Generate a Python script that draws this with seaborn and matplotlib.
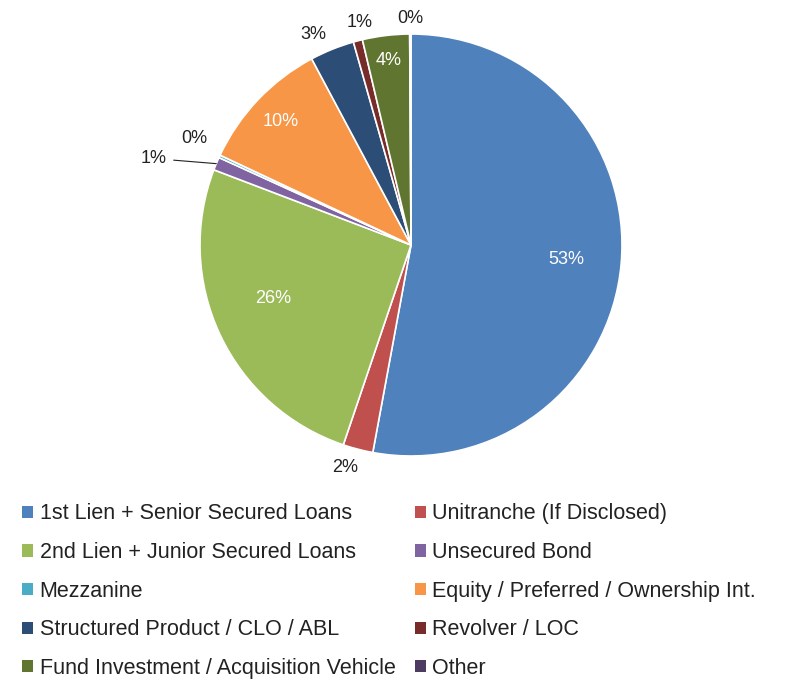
import numpy as np
import matplotlib.pyplot as plt
import seaborn as sns
from matplotlib.patches import Patch

# data (share of portfolio, %)
categories = [
    '1st Lien + Senior Secured Loans',
    'Unitranche (If Disclosed)',
    '2nd Lien + Junior Secured Loans',
    'Unsecured Bond',
    'Mezzanine',
    'Equity / Preferred / Ownership Int.',
    'Structured Product / CLO / ABL',
    'Revolver / LOC',
    'Fund Investment / Acquisition Vehicle',
    'Other',
]
shares = [52.9, 2.3, 25.6, 1.0, 0.2, 10.2, 3.4, 0.7, 3.6, 0.1]
colors = ['#4F81BD', '#C0504D', '#9BBB59', '#8064A2', '#4BACC6',
          '#F79646', '#2C4D75', '#772C2A', '#5F7530', '#4D3B62']

sns.set_theme(style='white')
plt.rcParams['font.family'] = ['Liberation Sans', 'DejaVu Sans']

W, H = 793, 679
fig = plt.figure(figsize=(W / 100, H / 100), dpi=100)
cx, cy, r = 411, 245, 211
ax = fig.add_axes([(cx - r) / W, (H - cy - r) / H, 2 * r / W, 2 * r / H])

wedges, _ = ax.pie(shares, colors=colors, startangle=90, counterclock=False,
                   radius=1.0, wedgeprops=dict(edgecolor='white', linewidth=1.2))
ax.set_xlim(-1, 1)
ax.set_ylim(-1, 1)
ax.set_aspect('equal')
ax.axis('off')

# label placement: (radius, angle nudge in degrees) per slice
inside = {0: (0.74, 0), 2: (0.70, 4), 5: (0.85, 0), 8: (0.88, 0)}
outside = {1: (1.10, 2), 6: (1.10, -3), 7: (1.085, 1.5), 9: (1.075, 0)}
dark = '#222222'
cum = np.cumsum([0] + shares)
for i, s in enumerate(shares):
    txt = f'{round(s):.0f}%'
    mid_deg = (cum[i] + s / 2) / 100 * 360
    if i in inside or i in outside:
        rr, nudge = inside.get(i, outside.get(i))
        a = np.deg2rad(mid_deg + nudge)
        ax.text(rr * np.sin(a), rr * np.cos(a), txt, ha='center', va='center',
                color='white' if i in inside else dark, fontsize=13)
    elif i == 3:
        a = np.deg2rad(mid_deg)
        ax.annotate(txt, xy=(np.sin(a), np.cos(a)), xytext=(-1.16, 0.41),
                    ha='right', va='center', fontsize=13, color=dark,
                    arrowprops=dict(arrowstyle='-', color=dark, lw=0.8,
                                    shrinkA=3, shrinkB=0))
    elif i == 4:
        ax.text(-1.027, 0.505, txt, ha='center', va='center',
                fontsize=13, color=dark)

# legend: two columns, filled row by row
order = [0, 2, 4, 6, 8, 1, 3, 5, 7, 9]
handles = [Patch(facecolor=colors[i], edgecolor='none') for i in order]
labels = [categories[i] for i in order]
fig.legend(handles, labels, ncol=2, loc='upper left',
           bbox_to_anchor=(3 / W, 1 - 484 / H), frameon=False,
           fontsize=15.5, handlelength=0.5, handleheight=0.5,
           handletextpad=0.3, labelspacing=0.82, columnspacing=0.9,
           labelcolor=dark)

fig.savefig('out.png', dpi=100)
